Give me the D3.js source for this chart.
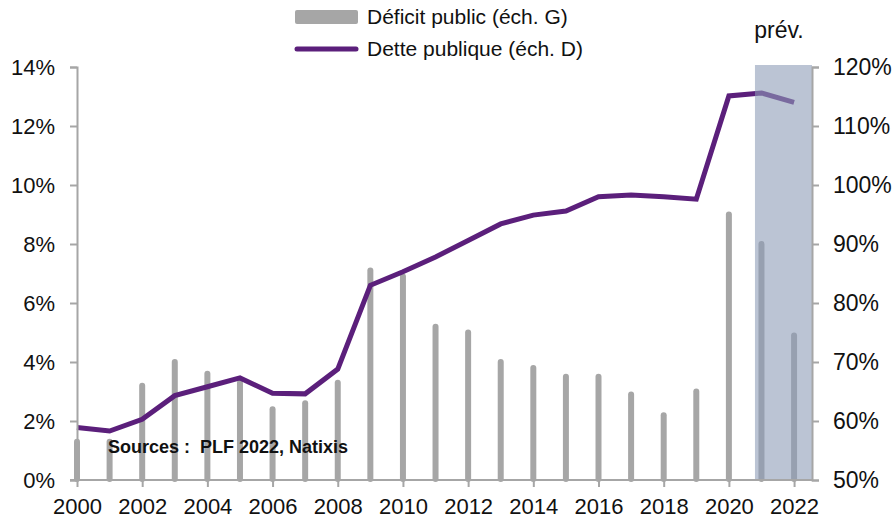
<!DOCTYPE html>
<html>
<head>
<meta charset="utf-8">
<script src="https://cdn.jsdelivr.net/npm/d3@7"></script>
<style>
  body { margin: 0; background: #fff; }
  text { font-family: "Liberation Sans", Arial, sans-serif; fill: #111; }
</style>
</head>
<body>
<div id="plot"></div>
<script>
// data
const years = [2000, 2001, 2002, 2003, 2004, 2005, 2006, 2007, 2008, 2009, 2010, 2011,
  2012, 2013, 2014, 2015, 2016, 2017, 2018, 2019, 2020, 2021, 2022];
const deficit = [1.4, 1.4, 3.3, 4.1, 3.7, 3.4, 2.5, 2.7, 3.4, 7.2, 7.0, 5.3,
  5.1, 4.1, 3.9, 3.6, 3.6, 3.0, 2.3, 3.1, 9.1, 8.1, 5.0];
const dette = [58.9, 58.3, 60.3, 64.3, 65.8, 67.3, 64.7, 64.6, 68.8, 83.0, 85.3, 87.8,
  90.6, 93.4, 94.9, 95.6, 98.0, 98.3, 98.0, 97.6, 115.1, 115.6, 114.0];
const leftTicks = [0, 2, 4, 6, 8, 10, 12, 14];
const rightTicks = [50, 60, 70, 80, 90, 100, 110, 120];
const yearTicks = [2000, 2002, 2004, 2006, 2008, 2010, 2012, 2014, 2016, 2018, 2020, 2022];

const width = 896;
const height = 520;

const svg = d3.select("div#plot")
  .append("svg")
  .attr("width", width)
  .attr("height", height);

const x = d3.scaleLinear().domain([2000, 2022.55]).range([77, 812]);
const yL = d3.scaleLinear().domain([0, 14]).range([480, 67]);
const yR = d3.scaleLinear().domain([50, 120]).range([480, 67]);

const axisColor = "#a6a6a6";

// bars
svg.selectAll(".bar")
  .data(years)
  .enter().append("rect")
  .attr("class", "bar")
  .attr("x", d => x(d) - 3)
  .attr("width", 6)
  .attr("y", (d, i) => yL(deficit[i]))
  .attr("height", (d, i) => 480 - yL(deficit[i]) + 2)
  .attr("rx", 3)
  .attr("fill", "#a6a6a6");

// line
const line = d3.line()
  .x((d, i) => x(years[i]))
  .y(d => yR(d));

svg.append("path")
  .datum(dette)
  .attr("d", line)
  .attr("fill", "none")
  .attr("stroke", "#5b1f7b")
  .attr("stroke-width", 5)
  .attr("stroke-linejoin", "miter");

// forecast shading
svg.append("rect")
  .attr("x", x(2020.8))
  .attr("y", yL(14) - 2)
  .attr("width", x(2022.55) - x(2020.8))
  .attr("height", 480 - yL(14) + 2)
  .attr("fill", "#8d9db8")
  .attr("opacity", 0.6);

svg.append("text")
  .attr("x", 779)
  .attr("y", 38)
  .attr("text-anchor", "middle")
  .style("font-size", "23px")
  .text("prév.");

// axes
const leftAxis = d3.axisLeft(yL).tickValues(leftTicks).tickSize(7).tickPadding(15)
  .tickFormat(d => d + "%");
const gl = svg.append("g").attr("transform", "translate(77,0)").call(leftAxis);

const rightAxis = d3.axisRight(yR).tickValues(rightTicks).tickSize(7).tickPadding(14)
  .tickFormat(d => d + "%");
const gr = svg.append("g").attr("transform", "translate(812,0)").call(rightAxis);

const bottomAxis = d3.axisBottom(x).tickValues(yearTicks).tickSize(7).tickPadding(11)
  .tickFormat(d3.format("d"));
const gb = svg.append("g").attr("transform", "translate(0,480)").call(bottomAxis);

[gl, gr, gb].forEach(g => {
  g.select(".domain").attr("stroke", axisColor).attr("stroke-width", 2);
  g.selectAll(".tick line").attr("stroke", axisColor).attr("stroke-width", 2);
  g.selectAll(".tick text")
    .style("font-family", "'Liberation Sans', Arial, sans-serif")
    .style("font-size", "22px")
    .attr("fill", "#111");
});
gr.selectAll(".tick text").style("font-size", "23px");
gb.select(".domain").attr("d", "M70,0H812");

// sources
svg.append("text")
  .attr("x", 108)
  .attr("y", 453)
  .style("font-size", "18px")
  .style("font-weight", "bold")
  .attr("xml:space", "preserve")
  .text("Sources :  PLF 2022, Natixis");

// legend
svg.append("rect")
  .attr("x", 295)
  .attr("y", 10)
  .attr("width", 63)
  .attr("height", 14)
  .attr("rx", 2)
  .attr("fill", "#a6a6a6");
svg.append("text")
  .attr("x", 367)
  .attr("y", 24)
  .style("font-size", "21px")
  .text("Déficit public (éch. G)");

svg.append("line")
  .attr("x1", 297).attr("x2", 356)
  .attr("y1", 49).attr("y2", 49)
  .attr("stroke", "#5b1f7b")
  .attr("stroke-width", 5)
  .attr("stroke-linecap", "round");
svg.append("text")
  .attr("x", 367)
  .attr("y", 56)
  .style("font-size", "21px")
  .text("Dette publique (éch. D)");
</script>
</body>
</html>
